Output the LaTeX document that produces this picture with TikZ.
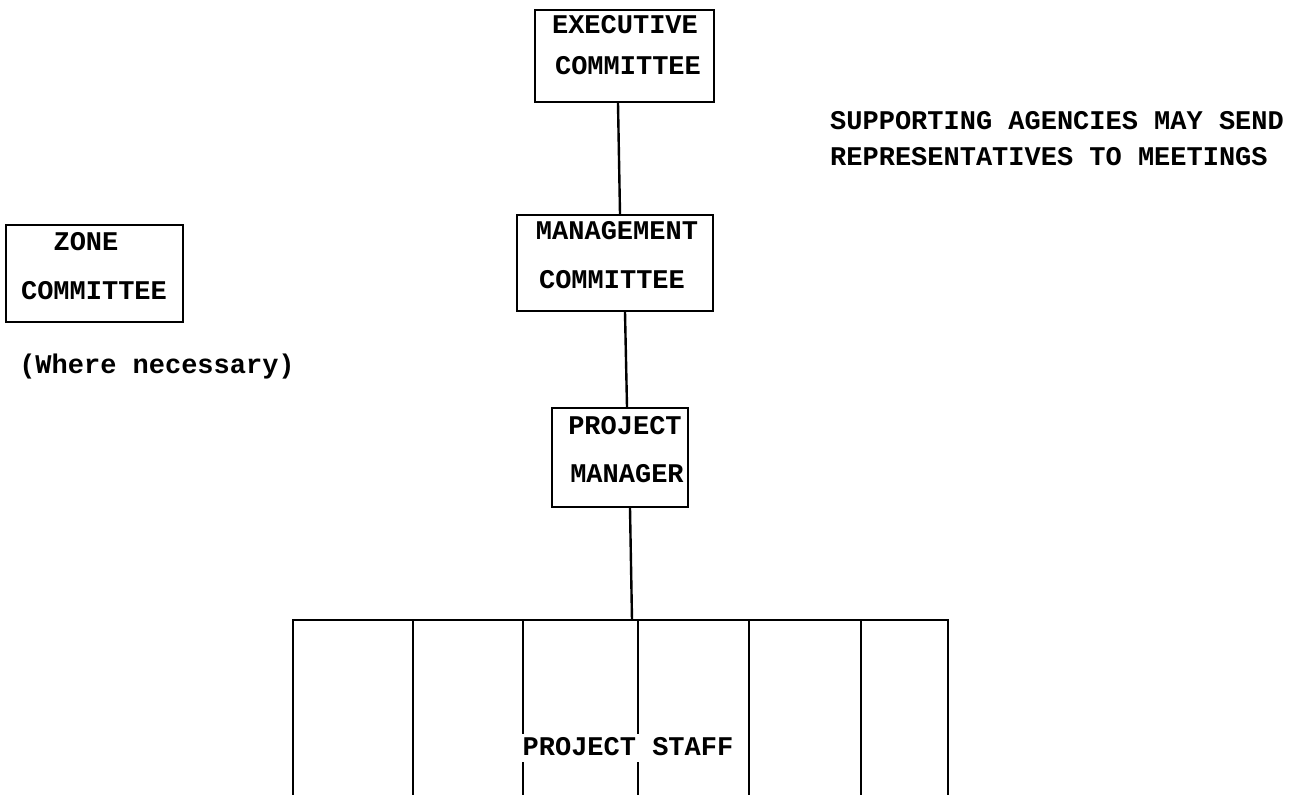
\documentclass[tikz,border=0pt]{standalone}
\usepackage{fontspec}
\newfontfamily\tw{Liberation Mono}
\begin{document}
\begin{tikzpicture}[x=1pt,y=-1pt,
  box/.style={draw, line width=2.4pt, inner sep=0pt},
  lbl/.style={font=\tw\bfseries\fontsize{27}{31}\selectfont, inner sep=0pt, text height=15.5pt, text depth=0pt, anchor=center},
  conn/.style={line width=2.4pt}]
\useasboundingbox (0,0) rectangle (1291,795);
% boxes
\node[box, minimum width=179pt, minimum height=92pt] (exec) at (624.5,56) {};
\node[box, minimum width=196pt, minimum height=96pt] (mgmt) at (615,263) {};
\node[box, minimum width=136pt, minimum height=99pt] (pm) at (620,457.5) {};
\node[box, minimum width=177pt, minimum height=97pt] (zone) at (94.5,273.5) {};
% labels
\node[lbl] (execA) at (625,26) {EXECUTIVE};
\node[lbl] (execB) at (628,67) {COMMITTEE};
\node[lbl] (mgmtA) at (617,232) {MANAGEMENT};
\node[lbl] (mgmtB) at (612,281) {COMMITTEE};
\node[lbl] (pmA) at (625,427) {PROJECT};
\node[lbl] (pmB) at (627,475) {MANAGER};
\node[lbl] (zoneA) at (86,243) {ZONE};
\node[lbl] (zoneB) at (94,292) {COMMITTEE};
\node[lbl] (where) at (157,366) {(Where necessary)};
\node[lbl, anchor=west] (supA) at (830,122) {SUPPORTING AGENCIES MAY SEND};
\node[lbl, anchor=west] (supB) at (830,158) {REPRESENTATIVES TO MEETINGS};
% connectors
\draw[conn] ([xshift=-6.5pt]exec.south) -- ([xshift=5pt]mgmt.north);
\draw[conn] ([xshift=10pt]mgmt.south) -- ([xshift=7pt]pm.north);
\coordinate (busT) at (632,620);
\draw[conn] ([xshift=10pt]pm.south) -- (busT);
\coordinate (b1) at (293,620); \coordinate (e1) at (293,795);
\coordinate (b2) at (413,620); \coordinate (e2) at (413,795);
\coordinate (b3) at (523,620); \coordinate (e3) at (523,795);
\coordinate (b4) at (638,620); \coordinate (e4) at (638,795);
\coordinate (b5) at (749,620); \coordinate (e5) at (749,795);
\coordinate (b6) at (861,620); \coordinate (e6) at (861,795);
\coordinate (b7) at (948,620); \coordinate (e7) at (948,795);
\draw[conn, line cap=rect] (b1) -- (b7);
\foreach \i in {1,...,7} { \draw[conn] (b\i) -- (e\i); }
\node[lbl, fill=white, inner xsep=1pt, inner ysep=6pt] (staff) at (628,748) {PROJECT STAFF};
\end{tikzpicture}
\end{document}
